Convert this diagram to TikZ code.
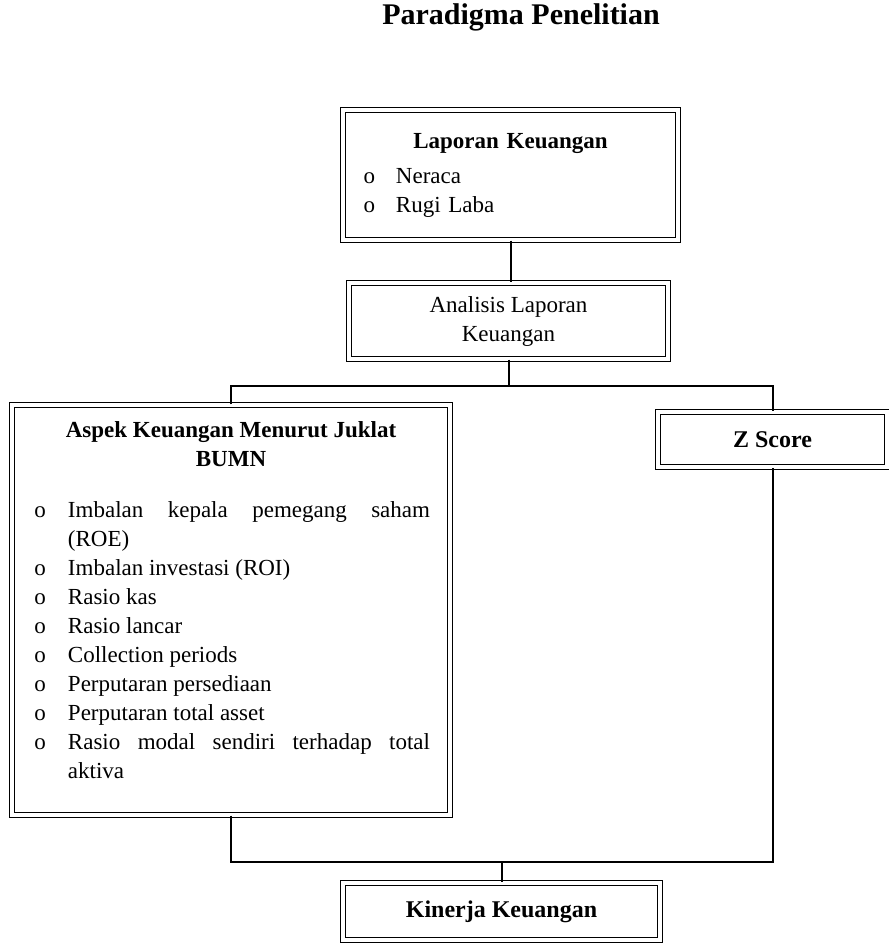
\documentclass[tikz,border=0pt]{standalone}
\usepackage{fontspec}
\setmainfont{Liberation Serif}
\usetikzlibrary{positioning}

% bulleted list with small circles
\newenvironment{olist}[2]{%
  \begin{list}{o}{\setlength\leftmargin{#1}\setlength\labelsep{#2}%
    \setlength\labelwidth{\dimexpr#1-#2\relax}\setlength\itemsep{0pt}%
    \setlength\parsep{0pt}\setlength\topsep{0pt}\setlength\partopsep{0pt}}}%
  {\end{list}}

\begin{document}
\begin{tikzpicture}[x=0.5pt,y=-0.5pt,
    dblbox/.style={draw, double, double distance=1.8pt, line width=0.6pt,
      inner xsep=10pt, inner ysep=5pt,
      font=\fontsize{11.5}{14.5}\selectfont},
    link/.style={line width=1pt}]
    \useasboundingbox (0,0) rectangle (889,950);

    % Title
    \node[font=\fontsize{15}{18}\selectfont\bfseries] (judul) at (521,17) {Paradigma Penelitian};

    % Boxes
    \node[dblbox, minimum width=167.5pt, minimum height=65pt, text width=147.5pt] (lapkeu) at (510.5,175)
      {\hyphenpenalty=10000
       {\centering\bfseries Laporan Keuangan\par}\vspace{3pt}
       \begin{olist}{16.5pt}{10.5pt}
         \item Neraca
         \item Rugi Laba
       \end{olist}};
    \node[dblbox, minimum width=159.5pt, minimum height=38pt, align=center] (ana) at (508.5,321)
      {Analisis Laporan\\Keuangan};
    \node[dblbox, minimum width=219pt, minimum height=205pt, text width=199pt, align=justify] (aspek) at (231,610)
      {\hyphenpenalty=10000 \exhyphenpenalty=10000
       {\centering\bfseries Aspek Keuangan Menurut Juklat\\BUMN\par}\vspace{11pt}
       \begin{olist}{18pt}{11pt}
         \item Imbalan kepala pemegang saham (ROE)
         \item Imbalan investasi (ROI)
         \item Rasio kas
         \item Rasio lancar
         \item Collection periods
         \item Perputaran persediaan
         \item Perputaran total asset
         \item Rasio modal sendiri terhadap total aktiva
       \end{olist}\par\vskip 10pt\nointerlineskip\hbox{}};
    \node[dblbox, minimum width=114.5pt, minimum height=27.5pt, font=\fontsize{12}{14}\selectfont\bfseries] (zscore) at (772.5,439.5)
      {Z Score};
    \node[dblbox, minimum width=158.5pt, minimum height=28.5pt, font=\fontsize{12}{14}\selectfont\bfseries] (kinerja) at (501.5,911.5)
      {Kinerja Keuangan};

    % Connectors
    \coordinate (cabang) at (ana.south |- 0,386);
    \coordinate (gabung) at (kinerja.north |- 0,862);
    \draw[link] (lapkeu.south) -- (lapkeu.south |- ana.north);
    \draw[link] (ana.south) -- (cabang);
    \draw[link] (aspek.north) |- (cabang) -| (zscore.north);
    \draw[link] (aspek.south) |- (gabung) -| (zscore.south);
    \draw[link] (gabung) -- (kinerja.north);
\end{tikzpicture}
\end{document}
